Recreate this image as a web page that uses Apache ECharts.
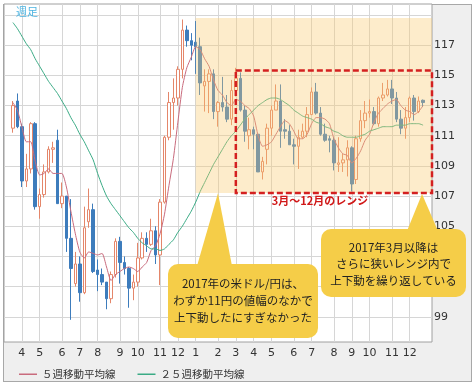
<!DOCTYPE html>
<html><head><meta charset="utf-8">
<script src="https://cdn.jsdelivr.net/npm/echarts@6/dist/echarts.min.js"></script>
<style>
html,body{margin:0;padding:0;background:#fff;}
#frame{position:absolute;left:3px;top:4px;width:469px;height:378px;box-sizing:border-box;border:1px solid #a8a8a8;background:#efefef;}
#chart{position:absolute;left:0;top:0;width:475px;height:387px;}
</style></head><body>
<div id="frame"></div><div id="chart"></div>
<script>
// Weekly categories (Mondays)
var weeks = ['16/03/07','16/03/14','16/03/21','16/03/28','16/04/04','16/04/11','16/04/18','16/04/25','16/05/02','16/05/09','16/05/16','16/05/23','16/05/30','16/06/06','16/06/13','16/06/20','16/06/27','16/07/04','16/07/11','16/07/18','16/07/25','16/08/01','16/08/08','16/08/15','16/08/22','16/08/29','16/09/05','16/09/12','16/09/19','16/09/26','16/10/03','16/10/10','16/10/17','16/10/24','16/10/31','16/11/07','16/11/14','16/11/21','16/11/28','16/12/05','16/12/12','16/12/19','16/12/26','17/01/02','17/01/09','17/01/16','17/01/23','17/01/30','17/02/06','17/02/13','17/02/20','17/02/27','17/03/06','17/03/13','17/03/20','17/03/27','17/04/03','17/04/10','17/04/17','17/04/24','17/05/01','17/05/08','17/05/15','17/05/22','17/05/29','17/06/05','17/06/12','17/06/19','17/06/26','17/07/03','17/07/10','17/07/17','17/07/24','17/07/31','17/08/07','17/08/14','17/08/21','17/08/28','17/09/04','17/09/11','17/09/18','17/09/25','17/10/02','17/10/09','17/10/16','17/10/23','17/10/30','17/11/06','17/11/13','17/11/20','17/11/27','17/12/04','17/12/11','17/12/18','17/12/25','18/01/01','18/01/08'];

var opens = [null,null,111.5,113.3,111.6,108.0,108.8,111.8,106.3,107.1,108.6,110.1,110.7,106.5,107.0,104.2,101.2,102.5,100.6,105.3,106.1,102.1,101.8,101.3,100.2,101.8,104.0,102.6,102.2,100.9,101.3,102.9,104.2,103.8,104.7,103.1,106.6,110.9,113.2,113.5,115.4,118.0,117.3,117.2,116.9,114.3,114.6,115.1,112.6,113.2,112.9,112.1,114.0,114.8,112.7,111.0,111.4,111.1,108.6,110.1,111.5,112.7,113.3,111.4,111.3,110.4,110.3,110.9,111.3,112.4,113.9,112.5,111.1,110.8,110.7,109.1,109.2,109.4,110.2,108.1,110.8,112.0,112.5,112.6,111.8,113.5,113.7,114.1,113.5,112.1,111.5,112.2,113.5,112.6,113.35,null,null];
var closes = [null,null,113.0,111.6,108.0,108.8,111.8,106.3,107.1,108.6,110.1,110.2,106.5,107.0,104.2,102.2,102.5,100.6,104.9,106.1,102.0,101.8,101.3,100.2,101.8,104.0,102.6,102.2,100.9,101.3,102.9,104.2,103.8,104.7,103.1,106.6,110.9,113.2,113.5,115.4,118.0,117.3,117.0,116.9,114.5,114.6,115.1,112.6,113.2,112.9,112.1,114.0,114.8,112.7,111.3,111.4,111.1,108.6,109.3,111.5,112.7,113.3,111.3,111.3,110.4,110.3,110.9,111.3,112.4,113.9,112.5,111.1,110.7,110.7,109.2,109.2,109.4,110.2,107.8,110.8,112.0,112.5,112.6,111.8,113.5,113.7,114.1,113.5,112.1,111.5,112.2,113.5,112.6,113.3,113.2,null,null];
var lows = [null,null,111.2,111.5,107.6,107.6,108.5,106.1,105.5,106.9,108.5,109.2,106.5,106.2,103.3,98.8,101.0,100.0,100.5,104.9,101.9,100.7,101.1,99.5,99.9,101.6,101.2,101.8,99.6,100.1,101.0,102.8,103.3,103.7,102.5,101.1,106.5,110.7,111.4,113.0,114.8,116.9,116.0,115.1,113.7,112.6,112.5,112.1,111.6,112.6,111.9,111.7,113.6,112.6,110.6,110.1,110.1,108.6,108.1,109.1,111.0,112.7,110.2,110.8,110.4,109.1,108.8,110.8,110.9,112.4,112.4,111.0,110.6,109.9,108.7,108.6,108.6,108.3,107.3,107.8,110.6,111.5,112.2,111.7,111.6,113.3,113.6,113.1,111.9,111.1,110.8,111.9,112.0,112.5,112.9,null,null];
var highs = [null,null,113.3,113.8,111.8,109.8,111.9,111.9,107.5,109.1,110.3,110.6,111.4,107.9,107.0,106.8,103.3,103.0,106.3,107.5,106.5,102.8,102.2,101.3,102.0,104.2,104.3,103.0,102.3,101.8,103.9,104.6,104.6,105.5,105.0,106.8,111.0,113.9,114.8,115.6,118.7,118.3,117.8,118.6,117.5,115.4,115.4,115.4,113.3,114.9,113.7,114.7,115.5,115.2,113.0,112.2,111.6,111.1,109.6,111.8,113.0,114.4,114.4,112.1,111.7,110.8,111.4,111.8,112.9,114.2,114.5,112.9,111.8,111.0,110.9,110.9,109.8,110.7,110.3,111.0,112.7,113.3,113.4,112.9,113.6,114.5,114.7,114.7,113.9,112.7,112.9,113.6,113.7,113.6,113.4,null,null];
var ma5 = [null,null,113.2,112.7,111.6,110.6,110.6,109.3,108.4,108.5,108.8,108.5,108.5,108.5,107.6,106.0,104.5,103.3,102.9,103.3,103.2,103.1,103.2,102.3,101.4,101.8,102.0,102.2,102.3,102.2,102.0,102.3,102.6,103.4,103.7,104.5,105.8,107.7,109.5,111.9,114.2,115.5,116.2,116.9,116.7,116.1,115.6,114.7,114.0,113.7,113.2,113.0,113.4,113.3,113.0,112.8,112.3,111.0,110.3,110.4,110.6,111.1,111.6,112.0,111.8,111.3,110.8,110.8,111.1,111.8,112.2,112.2,112.1,111.8,110.8,110.2,109.8,109.7,109.2,109.5,110.0,110.7,111.1,111.9,112.5,112.8,113.1,113.3,113.4,113.0,112.7,112.6,112.4,112.6,113.0,null,null];
var ma25 = [null,null,118.5,118.1,117.6,117.1,116.7,116.1,115.6,115.1,114.6,114.2,113.8,113.3,112.8,112.2,111.7,111.1,110.6,110.0,109.4,108.5,107.7,107.0,106.5,106.1,105.7,105.3,104.9,104.6,104.2,103.9,103.7,103.5,103.5,103.4,103.5,103.8,104.1,104.6,105.0,105.5,106.0,106.6,107.3,107.9,108.5,109.1,109.6,110.1,110.6,111.0,111.3,111.7,112.1,112.4,112.7,113.0,113.2,113.4,113.5,113.5,113.4,113.2,113.0,112.7,112.5,112.3,112.2,112.1,111.9,111.8,111.6,111.5,111.3,111.2,111.0,110.9,110.9,110.9,111.0,111.1,111.3,111.4,111.5,111.6,111.6,111.6,111.7,111.7,111.7,111.8,111.8,111.8,111.7,null,null];

var yTicks = [99,101,103,105,107,109,111,113,115,117,119];
var yLabels = [99,101,103,105,107,109,111,113,115,117];

// month start flags (tick labels = month numbers), labelled months Apr 2016 - Dec 2017 only
var monthStart = weeks.map(function (w, i) {
  return i > 0 && w.slice(0, 2) !== '18' && w.slice(3, 5) !== weeks[i - 1].slice(3, 5);
});
var monthLabel = weeks.map(function (w) { return String(parseInt(w.slice(3, 5), 10)); });

var candleData = weeks.map(function (w, i) {
  return opens[i] == null ? '-' : [opens[i], closes[i], lows[i], highs[i]];
});

var FONT = 'DejaVu Sans';
var JP = 'Noto Sans CJK JP';
var YEL = '#f5cd48';

var chart = echarts.init(document.getElementById('chart'), null, {renderer: 'canvas'});
chart.setOption({
  animation: false,
  backgroundColor: 'transparent',
  grid: {left: 4, top: 4, width: 428, height: 338, show: true, backgroundColor: '#ffffff', borderColor: '#a0a0a0', borderWidth: 1},
  legend: {
    left: 14, top: 364, itemWidth: 18, itemHeight: 1.5, itemGap: 22, icon: 'rect',
    data: ['５週移動平均線', '２５週移動平均線'],
    textStyle: {fontFamily: JP, fontSize: 10.5, color: '#333'}
  },
  xAxis: {
    type: 'category', data: weeks, boundaryGap: false,
    axisLine: {show: false}, axisTick: {show: false},
    axisLabel: {
      interval: function (i) { return monthStart[i]; },
      formatter: function (v, i) { return monthLabel[i]; },
      fontFamily: FONT, fontSize: 11, color: '#333', margin: 6
    },
    splitLine: {show: true, interval: function (i) { return monthStart[i]; }, lineStyle: {color: '#d6d6d6', width: 1}}
  },
  yAxis: {
    type: 'value', position: 'right', min: 97.33, max: 119.73, scale: true,
    axisLine: {show: false},
    axisTick: {show: false, customValues: yTicks},
    axisLabel: {customValues: yLabels, fontFamily: FONT, fontSize: 11, color: '#333', margin: 2},
    splitLine: {show: true, lineStyle: {color: '#d6d6d6', width: 1}}
  },
  series: [
    {
      type: 'candlestick', name: '週足', data: candleData, barWidth: 3,
      itemStyle: {color: '#ffffff', color0: '#3d7cbc', borderColor: '#e4866a', borderColor0: '#3d7cbc', borderWidth: 1},
      markArea: {
        silent: true, z: 10,
        data: [
          [{xAxis: '17/01/02', yAxis: 118.8, itemStyle: {color: 'rgba(250,202,110,0.36)'}}, {xAxis: '18/01/08', yAxis: 107.2}],
          [{xAxis: '17/03/06', yAxis: 115.33, itemStyle: {color: 'rgba(0,0,0,0)', borderColor: '#d42020', borderWidth: 2.5, borderType: [6, 3]}}, {xAxis: '18/01/08', yAxis: 107.2}]
        ]
      }
    },
    {type: 'line', name: '５週移動平均線', data: ma5, symbol: 'none', smooth: 0.2, color: '#c96b7d', lineStyle: {width: 1, color: '#c96b7d'}},
    {type: 'line', name: '２５週移動平均線', data: ma25, symbol: 'none', smooth: 0.2, color: '#3aab85', lineStyle: {width: 1, color: '#3aab85'}}
  ],
  graphic: [
    {type: 'text', z: 100, style: {text: '週足', x: 16, y: 12, fill: '#4cb3e0', font: '11px "' + JP + '"', verticalAlign: 'middle'}},
    {type: 'text', z: 100, style: {text: '3月～12月のレンジ', x: 320, y: 201, fill: '#d01818', font: 'bold 11px "' + JP + '"', align: 'center', verticalAlign: 'middle'}},
    {type: 'polygon', z: 100, shape: {points: [[197, 266], [232, 266], [218, 193]]}, style: {fill: YEL}},
    {type: 'rect', z: 100, shape: {x: 168, y: 264, width: 150, height: 74, r: 10}, style: {fill: YEL}},
    {type: 'text', z: 101, style: {text: '2017年の米ドル/円は、\nわずか11円の値幅のなかで\n上下動したにすぎなかった', x: 243, y: 301, fill: '#222', font: '11.5px "' + JP + '"', align: 'center', verticalAlign: 'middle', lineHeight: 17}},
    {type: 'polygon', z: 100, shape: {points: [[407, 231], [438, 231], [422, 194]]}, style: {fill: YEL}},
    {type: 'rect', z: 100, shape: {x: 321, y: 229, width: 145, height: 68, r: 10}, style: {fill: YEL}},
    {type: 'text', z: 101, style: {text: '2017年3月以降は\nさらに狭いレンジ内で\n上下動を繰り返している', x: 393.5, y: 264, fill: '#222', font: '11.5px "' + JP + '"', align: 'center', verticalAlign: 'middle', lineHeight: 16.5}}
  ]
});
</script></body></html>
